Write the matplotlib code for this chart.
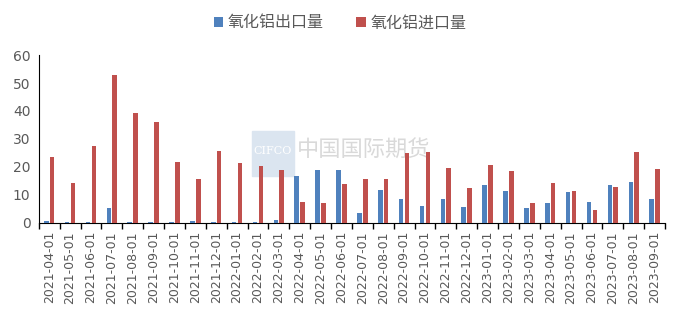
import matplotlib
matplotlib.use("Agg")
import matplotlib.pyplot as plt
from matplotlib.patches import Rectangle
import numpy as np

plt.rcParams['font.family'] = ['Noto Sans CJK SC', 'DejaVu Sans']

months = ["2021-04-01", "2021-05-01", "2021-06-01", "2021-07-01", "2021-08-01", "2021-09-01",
          "2021-10-01", "2021-11-01", "2021-12-01", "2022-01-01", "2022-02-01", "2022-03-01",
          "2022-04-01", "2022-05-01", "2022-06-01", "2022-07-01", "2022-08-01", "2022-09-01",
          "2022-10-01", "2022-11-01", "2022-12-01", "2023-01-01", "2023-02-01", "2023-03-01",
          "2023-04-01", "2023-05-01", "2023-06-01", "2023-07-01", "2023-08-01", "2023-09-01"]
exports = [0.5, 0.3, 0.3, 5.1, 0.2, 0.1, 0.3, 0.6, 0.3, 0.3, 0.3, 1.1,
           16.7, 18.9, 18.9, 3.6, 11.7, 8.6, 5.9, 8.4, 5.6, 13.6, 11.3, 5.4,
           7.2, 11.0, 7.4, 13.4, 14.6, 8.6]
imports = [23.4, 14.3, 27.4, 52.9, 39.4, 36.1, 21.8, 15.6, 25.6, 21.5, 20.3, 18.9,
           7.4, 7.0, 13.9, 15.6, 15.6, 24.8, 25.2, 19.7, 12.4, 20.6, 18.4, 6.9,
           14.1, 11.3, 4.4, 12.9, 25.2, 19.2]
series_names = ["氧化铝出口量", "氧化铝进口量"]

blue = "#4F81BD"
red = "#C0504D"
grey = "#595959"

fig = plt.figure(figsize=(6.8, 3.15), dpi=100)
ax = fig.add_axes([0.057, 0.293, 0.921, 0.532])

x = np.arange(len(months))
w = 0.22
ax.bar(x - 0.14, exports, w, color=blue, label=series_names[0], zorder=3)
ax.bar(x + 0.14, imports, w, color=red, label=series_names[1], zorder=3)

ax.set_xlim(-0.5, len(months) - 0.5)
ax.set_ylim(0, 60)
ax.set_yticks(range(0, 61, 10))
ax.set_xticks(x)
ax.set_xticklabels(months, rotation=90, fontsize=9, color=grey, family='DejaVu Sans')
ax.set_xticks(np.arange(-0.5, len(months), 1), minor=True)
ax.tick_params(axis='x', which='major', length=0, pad=6)
ax.tick_params(axis='x', which='minor', length=4, width=1, color='black', direction='out')
ax.tick_params(axis='y', length=0, labelsize=10, labelcolor=grey, pad=6)
for lab in ax.get_yticklabels():
    lab.set_family('DejaVu Sans')

for s in ["top", "right"]:
    ax.spines[s].set_visible(False)
ax.spines["left"].set_color("black")
ax.spines["bottom"].set_color("black")

# faint watermark (CIFCO badge + name), kept under the bars
ax.add_patch(Rectangle((252 / 680, 1 - 176 / 315), 42 / 680, 45 / 315,
                       transform=fig.transFigure, color="#dbe5f0", zorder=1))
ax.text(273 / 680, 0.52, "CIFCO", fontsize=8, color="white", ha="center", va="center",
        family="serif", transform=fig.transFigure, zorder=2)
ax.text(297 / 680, 0.525, "中国国际期货", fontsize=16, color="#d9d9d9", ha="left", va="center",
        transform=fig.transFigure, zorder=2)

fig.legend(loc="upper center", bbox_to_anchor=(0.5, 1.0), ncol=2, frameon=False,
           fontsize=11.5, labelcolor=grey, handlelength=0.6, handleheight=0.6,
           handletextpad=0.3, columnspacing=2.0)

plt.savefig("out.png", dpi=100)
